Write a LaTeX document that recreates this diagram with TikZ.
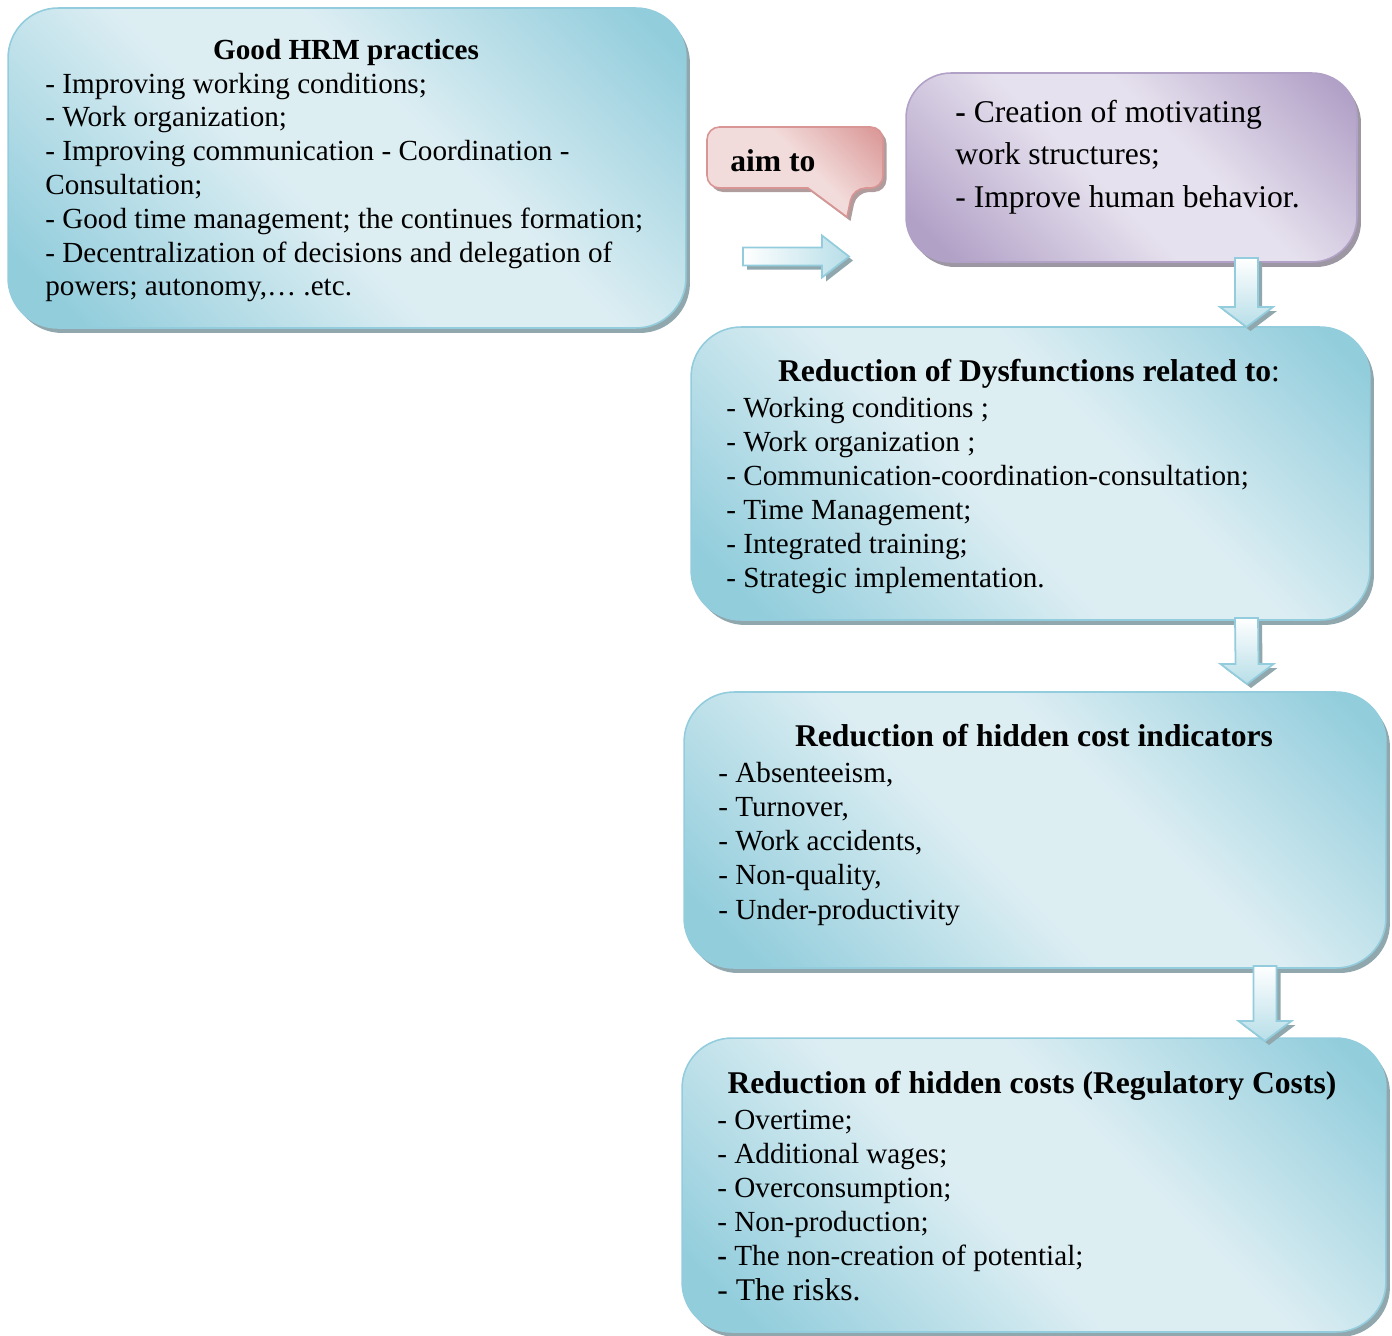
\documentclass[tikz,border=0pt]{standalone}
\usepackage{fontspec}
\setmainfont{Liberation Serif}
\usetikzlibrary{calc,shadows}
\definecolor{bdark}{HTML}{92CDDC}
\definecolor{blight}{HTML}{DDEEF3}
\definecolor{bline}{HTML}{93CDDD}
\definecolor{bshadow}{HTML}{90A8AD}
\definecolor{pdark}{HTML}{B2A1C7}
\definecolor{plight}{HTML}{E6E1EE}
\definecolor{pshadow}{HTML}{9C97A3}
\definecolor{rdark}{HTML}{D99594}
\definecolor{rlight}{HTML}{F2DCDB}
\definecolor{rshadow}{HTML}{B09C9C}
\definecolor{arrowfill}{HTML}{B7DEE8}
\pgfdeclarehorizontalshading{bluegr}{100bp}{color(0bp)=(bdark); color(20bp)=(bdark); color(45bp)=(blight); color(58bp)=(blight); color(82bp)=(bdark); color(100bp)=(bdark)}
\pgfdeclarehorizontalshading{purplegr}{100bp}{color(0bp)=(pdark); color(20bp)=(pdark); color(45bp)=(plight); color(58bp)=(plight); color(82bp)=(pdark); color(100bp)=(pdark)}
\pgfdeclarehorizontalshading{pinkgr}{100bp}{color(0bp)=(rlight); color(30bp)=(rlight); color(55bp)=(rlight); color(85bp)=(rdark); color(100bp)=(rdark)}
\begin{document}
\begin{tikzpicture}[x=0.02cm,y=-0.02cm,
  box/.style={rounded corners=1cm, draw=bline, line width=0.9pt, shading=bluegr, shading angle=45,
    drop shadow={shadow xshift=0.08cm,shadow yshift=-0.1cm,fill=bshadow,opacity=1}, inner sep=0},
  pbox/.style={rounded corners=0.9cm, draw=pdark, line width=0.9pt, shading=purplegr, shading angle=45,
    drop shadow={shadow xshift=0.08cm,shadow yshift=-0.1cm,fill=pshadow,opacity=1}, inner sep=0},
  callout/.style={draw=rdark, line width=0.9pt, shading=pinkgr, shading angle=45,
    drop shadow={shadow xshift=0.07cm,shadow yshift=-0.08cm,fill=rshadow,opacity=1}},
  txt/.style={anchor=base west, inner sep=0, font=\fontsize{16.6}{19}\selectfont},
  txtb/.style={anchor=base west, inner sep=0, font=\fontsize{18}{21}\selectfont},
  ttl/.style={anchor=base, inner sep=0, font=\fontsize{18}{21}\selectfont\bfseries},
  arrowbase/.style={draw=bline, line width=1pt,
    drop shadow={shadow xshift=0.08cm,shadow yshift=-0.08cm,fill=bshadow,opacity=1}},
  rarrow/.style={arrowbase, left color=white, right color=arrowfill,
    to path={($(\tikztostart)+(0,-9)$) -- ($(\tikztotarget)+(-27,-9)$) -- ($(\tikztotarget)+(-27,-21)$) -- (\tikztotarget) -- ($(\tikztotarget)+(-27,21)$) -- ($(\tikztotarget)+(-27,9)$) -- ($(\tikztostart)+(0,9)$) -- cycle}},
  darrow/.style={arrowbase, top color=white, bottom color=arrowfill,
    to path={($(\tikztostart)+(-11.5,0)$) -- ($(\tikztotarget)+(-11.5,-20)$) -- ($(\tikztotarget)+(-26.5,-20)$) -- (\tikztotarget) -- ($(\tikztotarget)+(26.5,-20)$) -- ($(\tikztotarget)+(11.5,-20)$) -- ($(\tikztostart)+(11.5,0)$) -- cycle}}
]
\useasboundingbox (0,0) rectangle (1392,1335);

% Box 1
\node[box, minimum width=13.56cm, minimum height=6.4cm] (b1) at (347,168) {};
\node[ttl, font=\fontsize{16.6}{19}\selectfont\bfseries] (b1t) at (346,60) {Good HRM practices};
\foreach \t [count=\i from 0] in {{- Improving working conditions;},{- Work organization;},{- Improving communication - Coordination -},{Consultation;},{- Good time management; the continues formation;},{- Decentralization of decisions and delegation of},{powers; autonomy,… .etc.}}
  \node[txt] (b1l\i) at (45,93+33.8*\i) {\t};

% Box 2
\node[pbox, minimum width=9.02cm, minimum height=3.78cm] (b2) at (1131.5,167.5) {};
\node[txtb] (b2l0) at (955,122) {\textbf{-} Creation of motivating};
\node[txtb] (b2l1) at (955,164) {work structures;};
\node[txtb] (b2l2) at (955,207) {- Improve human behavior.};

% Callout
\draw[callout] [rounded corners=0.25cm] (707,127) -- (883,127) -- (883,188) -- (853,188) [sharp corners] -- (847,217) -- (808,188) [rounded corners=0.25cm] -- (707,188) -- cycle;
\node[txtb, font=\fontsize{18}{21}\selectfont\bfseries] (aim) at (730,171) {aim to};

% Box 3
\node[box, minimum width=13.58cm, minimum height=5.86cm] (b3) at (1030.5,473.5) {};
\node[ttl] (b3t) at (1029,381) {Reduction of Dysfunctions related to\textmd{:}};
\foreach \t [count=\i from 0] in {{- Working conditions ;},{- Work organization ;},{- Communication-coordination-consultation;},{- Time Management;},{- Integrated training;},{- Strategic implementation.}}
  \node[txt] (b3l\i) at (726,417+34*\i) {\t};

% Box 4
\node[box, minimum width=14.04cm, minimum height=5.52cm] (b4) at (1035,830) {};
\node[ttl] (b4t) at (1034,746) {Reduction of hidden cost indicators};
\foreach \t [count=\i from 0] in {{- Absenteeism,},{- Turnover,},{- Work accidents,},{- Non-quality,},{- Under-productivity}}
  \node[txt] (b4l\i) at (718,782+34.25*\i) {\t};

% Box 5
\node[box, minimum width=14.08cm, minimum height=5.88cm] (b5) at (1034,1185) {};
\node[ttl] (b5t) at (1032,1093) {Reduction of hidden costs (Regulatory Costs)};
\foreach \t [count=\i from 0] in {{- Overtime;},{- Additional wages;},{- Overconsumption;},{- Non-production;},{\textbf{-} The non-creation of potential;}}
  \node[txt] (b5l\i) at (717,1129+34.2*\i) {\t};
\node[txtb] (b5l5) at (717,1300) {- The risks.};

% Arrows
\coordinate (ra1) at (743,256.5);
\coordinate (ra2) at (849,256.5);
\draw[rarrow] (ra1) to (ra2);
\coordinate (d1s) at (1246.5,258);
\coordinate (d1e) at (1246.5,327);
\draw[darrow] (d1s) to (d1e);
\coordinate (d2s) at (1246.5,618);
\coordinate (d2e) at (1247,684);
\draw[darrow] (d2s) to (d2e);
\coordinate (d3s) at (1265,966);
\coordinate (d3e) at (1265,1041);
\draw[darrow] (d3s) to (d3e);
\end{tikzpicture}
\end{document}
